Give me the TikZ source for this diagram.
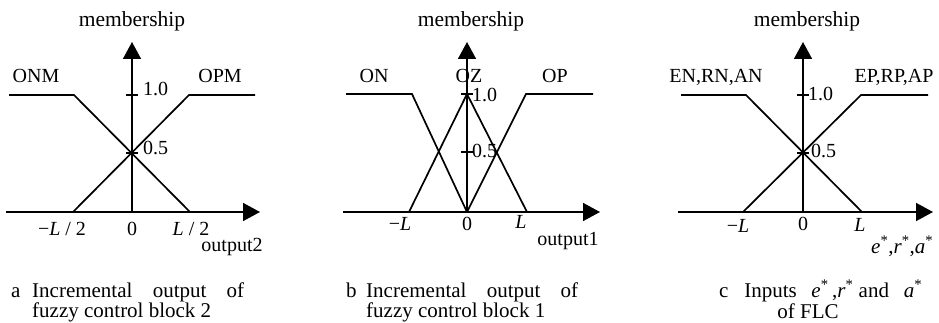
\documentclass[tikz,border=0pt]{standalone}
\usepackage{fontspec}
\setmainfont{Liberation Serif}
\usetikzlibrary{arrows.meta}
\begin{document}
\begin{tikzpicture}[x=1pt,y=-1pt,
  axisline/.style={line width=1.6pt,-{Triangle[length=17pt,width=18pt]}},
  mfline/.style={line width=1.7pt,line join=miter},
  tickline/.style={line width=1.3pt},
  lbl/.style={inner sep=0pt,anchor=base,font=\fontsize{20}{24}\selectfont},
  lblw/.style={inner sep=0pt,anchor=base west,font=\fontsize{20}{24}\selectfont},
  memb/.style={inner sep=0pt,anchor=base,font=\fontsize{21.5}{25}\selectfont},
  capw/.style={inner sep=0pt,anchor=base west,font=\fontsize{21}{24}\selectfont},
  capc/.style={inner sep=0pt,anchor=base,font=\fontsize{21}{24}\selectfont}]
\useasboundingbox (0,0) rectangle (939,323);

% ---------- panel a ----------
\coordinate (ao) at (132,212);
\draw[axisline] (6,212) -- (260,212);
\draw[axisline] (ao) -- (132,42);
\draw[tickline] (126,95) -- (138,95);
\draw[tickline] (126,153) -- (138,153);
\draw[mfline] (9,95) -- (74,95) -- (190,212);
\draw[mfline] (73,212) -- (189,95) -- (255,95);
\node[memb] (amem) at (132,27) {membership};
\node[lbl] (aonm) at (36,83) {ONM};
\node[lbl] (aopm) at (220,83) {OPM};
\node[lblw] (a10) at (143,96) {1.0};
\node[lblw] (a05) at (143,155) {0.5};
\node[lbl] (aml) at (62,235) {−\textit{L} / 2};
\node[lbl] (a0) at (132,235) {0};
\node[lbl] (apl) at (191,235) {\textit{L} / 2};
\node[lbl] (aout) at (232,251) {output2};
\node[capw] (acapa) at (11,297) {a};
\node[capw] (acap1) at (32,297) {\makebox[212pt][s]{Incremental output of}};
\node[capw] (acap2) at (32,317) {fuzzy control block 2};

% ---------- panel b ----------
\coordinate (bo) at (467,212);
\draw[axisline] (343,212) -- (600,212);
\draw[axisline] (bo) -- (467,42);
\draw[tickline] (461,94) -- (473,94);
\draw[tickline] (461,152) -- (473,152);
\draw[mfline] (346,94) -- (412,94) -- (bo);
\draw[mfline] (409,212) -- (467,94) -- (527,212);
\draw[mfline] (bo) -- (526,94) -- (593,94);
\node[memb] (bmem) at (471,27) {membership};
\node[lbl] (bon) at (374,83) {ON};
\node[lbl] (boz) at (469,83) {OZ};
\node[lbl] (bop) at (555,83) {OP};
\node[lblw] (b10) at (472,102) {1.0};
\node[lblw] (b05) at (472,158) {0.5};
\node[lbl] (bml) at (400,230) {−\textit{L}};
\node[lbl] (b0) at (467,230) {0};
\node[lbl] (bpl) at (521,228) {\textit{L}};
\node[lbl] (bout) at (568,245) {output1};
\node[capw] (bcapb) at (346,297) {b};
\node[capw] (bcap1) at (366,297) {\makebox[212pt][s]{Incremental output of}};
\node[capw] (bcap2) at (366,317) {fuzzy control block 1};

% ---------- panel c ----------
\coordinate (co) at (803,212);
\draw[axisline] (678,212) -- (933,212);
\draw[axisline] (co) -- (803,42);
\draw[tickline] (797,95) -- (809,95);
\draw[tickline] (797,153) -- (809,153);
\draw[mfline] (681,95) -- (746,95) -- (862,212);
\draw[mfline] (743,212) -- (861,95) -- (928,95);
\node[memb] (cmem) at (807,27) {membership};
\node[lbl] (cen) at (716,83) {EN,RN,AN};
\node[lbl] (cep) at (894,83) {EP,RP,AP};
\node[lblw] (c10) at (808,101) {1.0};
\node[lblw] (c05) at (811,158) {0.5};
\node[lbl] (cml) at (738,233) {−\textit{L}};
\node[lbl] (c0) at (803,230) {0};
\node[lbl] (cpl) at (860,231) {\textit{L}};
\node[lblw,font=\fontsize{21}{24}\selectfont] (cin) at (871,253) {\textit{e}\textsuperscript{*},\textit{r}\textsuperscript{*},\textit{a}\textsuperscript{*}};
\node[capw] (ccap1) at (719,297) {c\hspace{0.75em}Inputs\hspace{0.7em}\textit{e}\textsuperscript{*}\,,\textit{r}\textsuperscript{*} and\hspace{0.7em}\textit{a}\textsuperscript{*}};
\node[capc] (ccap2) at (808,318) {of FLC};
\end{tikzpicture}
\end{document}
